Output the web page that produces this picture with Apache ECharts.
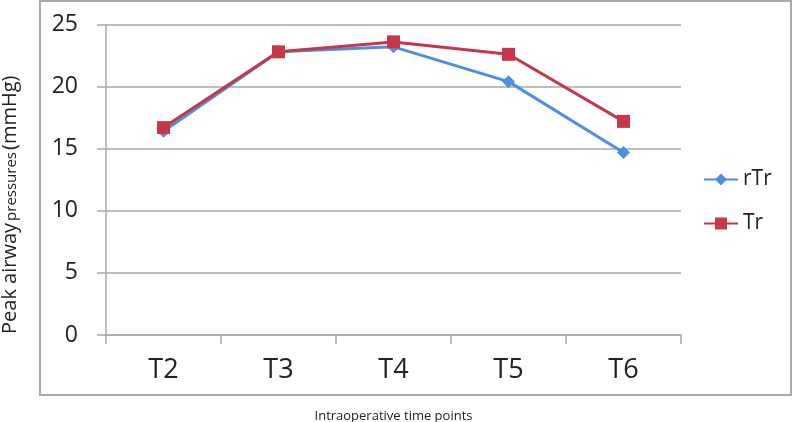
<!DOCTYPE html>
<html>
<head>
<meta charset="utf-8">
<script src="https://cdn.jsdelivr.net/npm/echarts@6/dist/echarts.min.js"></script>
<style>html,body{margin:0;padding:0;background:#fff}#c{width:793px;height:422px}</style>
</head>
<body>
<div id="c"></div>
<script>
var categories = ['T2', 'T3', 'T4', 'T5', 'T6'];
var rTr = [16.4, 22.8, 23.2, 20.4, 14.7];
var Tr = [16.7, 22.8, 23.6, 22.6, 17.2];
var yTicks = [0, 5, 10, 15, 20, 25];

var chart = echarts.init(document.getElementById('c'));
var font = 'Open Sans';
chart.setOption({
  animation: false,
  textStyle: { fontFamily: font },
  graphic: [{
    type: 'rect', shape: { x: 40, y: 1, width: 751, height: 394 },
    style: { fill: 'none', stroke: '#a3abab', lineWidth: 2 }, z: -1
  }],
  grid: { left: 106, right: 112, top: 24.5, bottom: 87, containLabel: false, outerBoundsMode: 'none' },
  legend: {
    orient: 'vertical', left: 703, top: 169, padding: 0,
    itemWidth: 34, itemHeight: 15, itemGap: 23,
    textStyle: { fontSize: 21, color: '#222', fontFamily: font },
    data: ['rTr', 'Tr']
  },
  xAxis: {
    type: 'category', data: categories, boundaryGap: true,
    name: 'Intraoperative time points', nameLocation: 'middle', nameGap: 75,
    nameTextStyle: { fontSize: 13, color: '#222', fontFamily: font },
    axisLine: { lineStyle: { color: '#a3abab', width: 1.5 } },
    axisTick: { show: true, length: 9, lineStyle: { color: '#a3abab', width: 1.5 } },
    axisLabel: { fontSize: 27, color: '#222', margin: 22, fontFamily: font }
  },
  yAxis: {
    type: 'value', min: yTicks[0], max: yTicks[yTicks.length - 1], interval: 5,
    name: '{a|Peak airway}{b|pressures}{a|(mmHg)}', nameLocation: 'middle', nameGap: 86,
    nameTextStyle: { padding: [0, 50, 0, 0], rich: {
      a: { fontSize: 20, color: '#222', fontFamily: font },
      b: { fontSize: 15, color: '#222', fontFamily: font, padding: [4, 2, 0, 2] }
    } },
    axisLine: { show: true, lineStyle: { color: '#a3abab', width: 1.5 } },
    axisTick: { show: true, length: 9, lineStyle: { color: '#a3abab', width: 1.5 } },
    axisLabel: { fontSize: 23, color: '#222', margin: 28, fontFamily: font },
    splitLine: { lineStyle: { color: '#a3abab', width: 1.5 } }
  },
  series: [{
    name: 'rTr', type: 'line', data: rTr,
    symbol: 'diamond', symbolSize: 13,
    lineStyle: { color: '#4d8fe3', width: 3 },
    itemStyle: { color: '#4d8fe3' }
  }, {
    name: 'Tr', type: 'line', data: Tr,
    symbol: 'rect', symbolSize: 13,
    lineStyle: { color: '#c63849', width: 3 },
    itemStyle: { color: '#c63849' }
  }]
});
</script>
</body>
</html>
